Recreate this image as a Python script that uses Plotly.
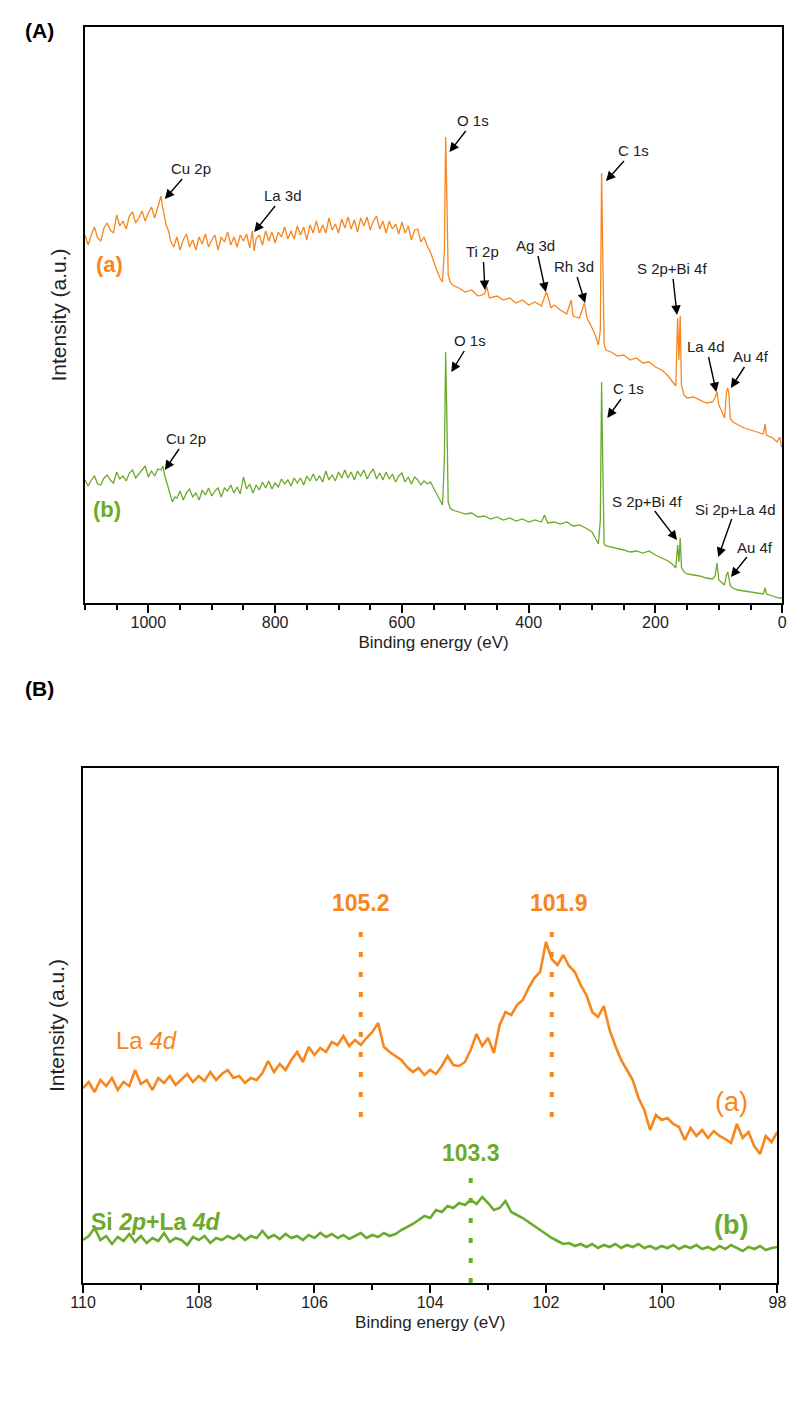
import plotly.graph_objects as go

# ---------------- Panel A: survey spectra ----------------
be_a = [1100,1095,1090,1085,1080,1075,1070,1065,1060,1055,1050,1045,1040,1035,1030,1025,1020,1015,1010,1005,
        1000,995,990,985,982,980,978,975,972,968,965,960,955,950,945,940,935,930,925,920,915,910,905,900,
        895,890,885,880,875,870,865,860,855,850,845,840,836,833,830,825,820,815,810,805,800,795,790,785,
        780,775,770,765,760,755,750,745,740,735,730,725,720,715,710,705,700,695,690,685,680,675,670,665,
        660,655,650,645,640,635,630,625,620,615,610,605,600,595,590,585,580,575,570,565,
        560,555,550,545,540,536,533,
        531,529,527,524,520,510,500,490,480,470,466,462,450,440,430,420,410,400,390,380,374,372,368,365,
        360,350,340,333,330,320,312,308,300,295,290,287,285,283,281,278,270,260,250,240,230,220,210,200,
        190,180,172,168,165,163,161,159,155,150,140,130,120,110,106,103,100,95,91,88,86,84,82,78,70,60,
        50,40,30,27,25,15,8,4,1,0]
int_a = [368,358,368,376,365,362,375,380,373,370,388,377,382,374,387,391,380,385,392,382,
         390,396,385,397,405,407,398,388,378,372,362,356,366,353,363,369,356,363,353,366,359,369,356,363,
         368,353,366,361,371,358,366,356,368,362,369,355,372,352,364,368,358,372,362,371,360,371,366,376,
         364,372,364,377,368,376,363,378,370,382,370,378,370,385,373,379,370,384,375,386,374,383,371,385,
         377,386,373,382,387,374,382,370,382,374,379,369,381,370,377,363,373,374,361,366,
         357,351,341,333,325,321,353,
         466,403,328,321,318,315,311,313,307,309,316,305,307,303,305,300,303,298,301,297,307,311,303,295,
         298,293,289,303,287,285,300,285,275,268,258,273,430,343,258,253,251,247,248,243,245,240,241,236,
         233,227,221,217,285,243,287,218,208,205,206,203,200,201,205,211,198,191,185,211,215,208,185,181,178,175,
         173,171,169,179,168,165,161,166,156,157]

be_b = [1100,1095,1090,1085,1080,1075,1070,1065,1060,1055,1050,1045,1040,1035,1030,1025,1020,1015,1010,1005,
        1000,995,990,985,980,977,974,970,966,962,958,955,950,945,940,935,930,925,920,915,910,905,900,
        895,890,885,880,875,870,865,860,855,850,845,840,835,830,825,820,815,810,805,800,795,790,785,
        780,775,770,765,760,755,750,745,740,735,730,725,720,715,710,705,700,695,690,685,680,675,670,665,
        660,655,650,645,640,635,630,625,620,615,610,605,600,595,590,585,580,575,570,565,
        560,555,550,545,540,536,533,
        531,529,527,524,520,510,500,490,480,470,460,450,440,430,420,410,400,390,380,375,370,360,350,340,
        330,320,310,300,295,290,287,285,283,281,278,270,260,250,240,230,220,210,200,190,180,172,168,165,
        163,161,159,155,150,140,130,120,110,106,103,100,95,91,88,86,84,82,78,70,60,50,40,30,27,25,15,5,0]
int_b = [123,117,123,127,119,118,125,128,123,120,131,124,127,122,130,133,125,129,133,137,
         126,132,127,134,133,137,127,118,108,101,106,105,112,103,110,114,106,110,103,113,108,115,107,
         112,115,106,115,112,118,110,116,109,126,114,119,110,118,113,121,115,122,114,120,116,124,119,
         123,117,125,120,125,118,127,122,129,122,127,121,132,123,128,122,131,125,133,125,131,123,132,127,
         133,124,130,134,124,130,123,131,124,129,121,127,130,121,126,119,126,123,118,122,
         119,121,115,109,103,98,143,
         251,183,101,95,93,91,89,90,86,87,84,86,83,85,82,84,81,83,81,88,80,81,79,81,
         77,78,75,71,65,59,83,221,133,59,57,56,54,53,51,52,50,52,48,45,42,38,35,58,
         41,65,36,31,29,28,27,25,24,27,40,23,20,18,28,31,25,17,15,13,12,11,10,9,15,9,7,5,5]

# survey peak labels: arrow tip (BE, intensity) and text offset in px
labels_a = ["Cu 2p", "La 3d", "O 1s", "Ti 2p", "Ag 3d", "Rh 3d", "C 1s", "S 2p+Bi 4f", "La 4d", "Au 4f"]
tips_a_be = [974, 833, 525, 469, 373, 311, 278, 166, 104, 81]
tips_a_int = [404, 371, 451, 313, 311, 300, 422, 288, 211, 215]
offs_a = [(26, -30), (29, -36), (24, -31), (-2, -38), (-10, -46), (-11, -36), (27, -30), (-5, -46), (-10, -45), (20, -31)]

labels_b = ["Cu 2p", "O 1s", "C 1s", "S 2p+Bi 4f", "Si 2p+La 4d", "Au 4f"]
tips_b_be = [974, 522, 276, 166, 101, 81]
tips_b_int = [133, 231, 185, 63, 46, 26]
offs_b = [(21, -31), (19, -31), (21, -29), (-30, -39), (17, -48), (24, -30)]

# ---------------- Panel B: La 4d region ----------------
be_hr = [round(110.0 - 0.1 * i, 1) for i in range(121)]
int_hr_a = [195,201,191,203,197,205,193,201,197,213,199,203,193,205,200,207,198,204,209,201,
            207,202,211,203,209,213,205,207,200,205,203,210,222,211,219,213,223,231,221,236,
            228,235,231,241,238,247,237,243,238,245,251,260,236,231,227,223,216,211,215,208,
            213,209,217,227,218,217,221,233,249,237,245,230,258,271,268,278,283,295,305,311,
            341,324,318,328,317,311,298,288,271,266,277,253,237,223,213,203,185,173,153,168,
            163,165,159,156,143,155,147,153,145,152,147,144,140,159,145,151,137,129,147,141,151]
int_hr_b = [43,47,55,43,47,39,46,42,49,41,47,40,45,42,50,41,45,43,38,46,
            43,47,40,45,43,47,44,48,43,47,45,52,45,48,44,49,45,47,43,48,
            45,50,46,49,45,48,44,47,50,45,48,46,50,47,49,53,56,59,63,67,
            65,73,71,77,75,80,78,83,79,86,80,73,75,82,71,68,65,61,57,53,
            49,45,42,39,40,37,39,36,39,35,38,36,39,35,38,36,39,35,37,34,
            37,35,38,34,37,35,38,34,36,33,37,34,38,35,32,36,34,37,33,35,36]
peak_pos_a = [105.2, 101.9]
peak_pos_b = [103.3]

ORANGE = "#F7861C"
GREEN = "#6CAA2B"
FONT = "Arial, Liberation Sans, sans-serif"

fig = go.Figure()
fig.add_trace(go.Scatter(x=be_a, y=int_a, mode="lines", line=dict(color=ORANGE, width=1.3),
                         xaxis="x", yaxis="y", showlegend=False))
fig.add_trace(go.Scatter(x=be_b, y=int_b, mode="lines", line=dict(color=GREEN, width=1.3),
                         xaxis="x", yaxis="y", showlegend=False))
fig.add_trace(go.Scatter(x=be_hr, y=int_hr_a, mode="lines", line=dict(color=ORANGE, width=2.6),
                         xaxis="x2", yaxis="y2", showlegend=False))
fig.add_trace(go.Scatter(x=be_hr, y=int_hr_b, mode="lines", line=dict(color=GREEN, width=2.6),
                         xaxis="x2", yaxis="y2", showlegend=False))

# dotted peak markers
for p in peak_pos_a:
    fig.add_trace(go.Scatter(x=[p, p], y=[166, 360], mode="lines",
                             line=dict(color=ORANGE, width=4, dash="5px,15px"),
                             xaxis="x2", yaxis="y2", showlegend=False))
for p in peak_pos_b:
    fig.add_trace(go.Scatter(x=[p, p], y=[0, 113], mode="lines",
                             line=dict(color=GREEN, width=4, dash="5px,15px"),
                             xaxis="x2", yaxis="y2", showlegend=False))

ann = []
for t, x, y, (dx, dy) in zip(labels_a + labels_b, tips_a_be + tips_b_be, tips_a_int + tips_b_int, offs_a + offs_b):
    ann.append(dict(x=x, y=y, xref="x", yref="y", text=t, showarrow=True, ax=dx, ay=dy,
                    arrowhead=2, arrowsize=1.35, arrowwidth=1.4, arrowcolor="black", standoff=0,
                    font=dict(size=15, color="#222", family=FONT)))

ann += [
    dict(x=1062, y=338, xref="x", yref="y", text="<b>(a)</b>", showarrow=False,
         font=dict(size=22, color=ORANGE, family=FONT)),
    dict(x=1065, y=93, xref="x", yref="y", text="<b>(b)</b>", showarrow=False,
         font=dict(size=22, color=GREEN, family=FONT)),
    dict(x=peak_pos_a[0], y=380, xref="x2", yref="y2", text="<b>%.1f</b>" % peak_pos_a[0], showarrow=False,
         font=dict(size=23, color=ORANGE, family=FONT)),
    dict(x=peak_pos_a[1] - 0.12, y=380, xref="x2", yref="y2", text="<b>%.1f</b>" % peak_pos_a[1], showarrow=False,
         font=dict(size=23, color=ORANGE, family=FONT)),
    dict(x=peak_pos_b[0], y=130, xref="x2", yref="y2", text="<b>%.1f</b>" % peak_pos_b[0], showarrow=False,
         font=dict(size=23, color=GREEN, family=FONT)),
    dict(x=108.9, y=243, xref="x2", yref="y2", text="La <i>4d</i>", showarrow=False,
         font=dict(size=24, color=ORANGE, family=FONT)),
    dict(x=108.75, y=61, xref="x2", yref="y2", text="<b>Si <i>2p</i>+La <i>4d</i></b>", showarrow=False,
         font=dict(size=23, color=GREEN, family=FONT)),
    dict(x=98.8, y=181, xref="x2", yref="y2", text="(a)", showarrow=False,
         font=dict(size=27, color=ORANGE, family=FONT)),
    dict(x=98.8, y=58, xref="x2", yref="y2", text="<b>(b)</b>", showarrow=False,
         font=dict(size=27, color=GREEN, family=FONT)),
    dict(x=0.013, y=1 - 17 / 1425, xref="paper", yref="paper", text="<b>(A)</b>", showarrow=False,
         xanchor="left", font=dict(size=21, color="black", family=FONT)),
    dict(x=0.013, y=1 - 688 / 1425, xref="paper", yref="paper", text="<b>(B)</b>", showarrow=False,
         xanchor="left", font=dict(size=21, color="black", family=FONT)),
]

axis_common = dict(showline=True, linecolor="black", mirror=True, showgrid=False, zeroline=False,
                   tickfont=dict(size=16, color="#222", family=FONT), ticklabelstandoff=-4)

fig.update_layout(
    width=800, height=1425, margin=dict(l=0, r=0, t=0, b=0),
    plot_bgcolor="white", paper_bgcolor="white",
    font=dict(family=FONT, color="#222"),
    xaxis=dict(domain=[74 / 800, 791 / 800], anchor="y", range=[1100, 0], linewidth=1.8,
               ticks="outside", ticklen=8, tickwidth=1.5, tickcolor="black", dtick=200, tick0=0,
               minor=dict(dtick=50, ticks="outside", ticklen=5, tickwidth=1.5, tickcolor="black"),
               title=dict(text="Binding energy (eV)", font=dict(size=17), standoff=6), **axis_common),
    yaxis=dict(domain=[1 - 603 / 1425, 1 - 27 / 1425], anchor="x", range=[0, 576], linewidth=1.8,
               showticklabels=False, ticks="",
               title=dict(text="Intensity (a.u.)", font=dict(size=21), standoff=11),
               showline=True, linecolor="black", mirror=True, showgrid=False, zeroline=False),
    xaxis2=dict(domain=[72 / 800, 786 / 800], anchor="y2", range=[110, 98], linewidth=2,
                ticks="outside", ticklen=8, tickwidth=1.5, tickcolor="black", dtick=2, tick0=0,
                minor=dict(dtick=1, ticks="outside", ticklen=5, tickwidth=1.5, tickcolor="black"),
                title=dict(text="Binding energy (eV)", font=dict(size=17), standoff=6), **axis_common),
    yaxis2=dict(domain=[1 - 1283 / 1425, 1 - 768 / 1425], anchor="x2", range=[0, 515], linewidth=2,
                showticklabels=False, ticks="",
                title=dict(text="Intensity (a.u.)", font=dict(size=21), standoff=11),
                showline=True, linecolor="black", mirror=True, showgrid=False, zeroline=False),
    annotations=ann,
)

fig.write_html("out.html")
